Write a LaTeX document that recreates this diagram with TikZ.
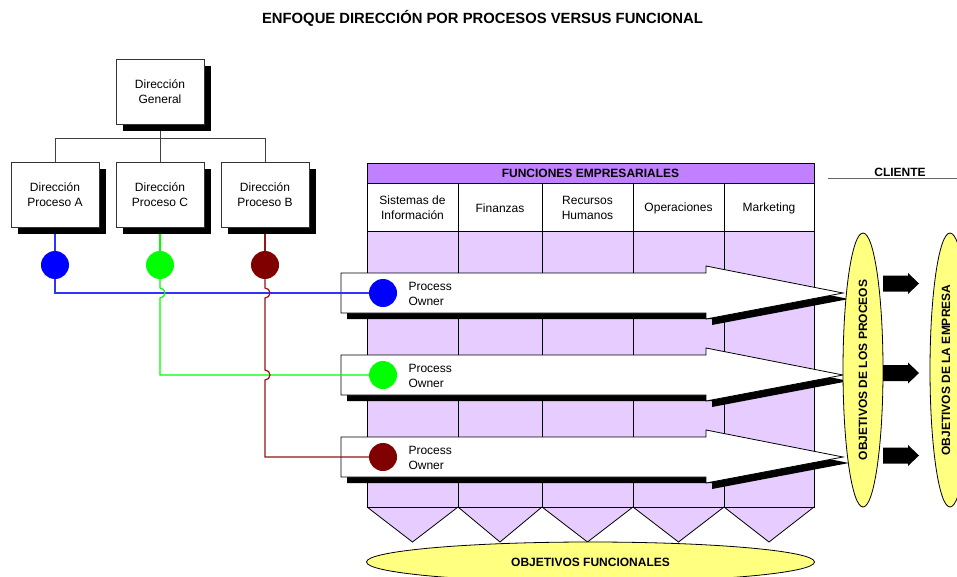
\documentclass[tikz,border=0pt]{standalone}
\usepackage{fontspec}
\setmainfont{Liberation Sans}
\usetikzlibrary{shadows,shapes.geometric}

\definecolor{headpurple}{RGB}{192,128,255}
\definecolor{lavender}{RGB}{230,204,255}
\definecolor{paleyellow}{RGB}{255,255,128}
\definecolor{ownerred}{RGB}{128,0,0}
\definecolor{ownergreen}{RGB}{0,255,0}
\definecolor{ownerblue}{RGB}{0,0,255}
\definecolor{linkblue}{RGB}{50,50,255}
\definecolor{linkred}{RGB}{150,20,20}

\begin{document}
\begin{tikzpicture}[x=1pt,y=-1pt,
  txt/.style={font=\fontsize{12}{15}\selectfont},
  boldtxt/.style={font=\bfseries\fontsize{12}{15}\selectfont},
  orgbox/.style={txt, draw=black!80, fill=white, line width=0.8pt,
    minimum width=88pt, minimum height=65pt, align=center, inner sep=0pt,
    drop shadow={shadow xshift=7pt, shadow yshift=-7pt, opacity=1, fill=black}},
  dot/.style={circle, minimum size=28pt, inner sep=0pt},
  link/.style={line width=1.2pt},
  orgline/.style={line width=0.9pt, draw=black!75},
  cellline/.style={draw=black, line width=0.8pt},
  yellowoval/.style={draw=black, line width=0.8pt, fill=paleyellow},
]
\useasboundingbox (0,0) rectangle (957,577);

% title
\node[font=\bfseries\fontsize{14.8}{17}\selectfont] (title) at (482.5,18.5)
  {ENFOQUE DIRECCIÓN POR PROCESOS VERSUS FUNCIONAL};

% ---------- functional table ----------
\fill[headpurple] (367,163) rectangle (814,183);
\fill[white] (367,183) rectangle (814,231);
\fill[lavender] (367,231) rectangle (814,507);
\foreach \a/\b in {367/458, 458/542, 542/633, 633/724, 724/814}
  \filldraw[fill=lavender, cellline] (\a,507) -- ({(\a+\b)/2},542) -- (\b,507);
\draw[cellline] (367,163) rectangle (814,507);
\draw[cellline] (367,183) -- (814,183);
\draw[cellline] (367,231) -- (814,231);
\foreach \x in {458,542,633,724}
  \draw[cellline] (\x,183) -- (\x,507);

\node[boldtxt] (fe) at (590.5,173.5) {FUNCIONES EMPRESARIALES};
\node[txt, align=center] (si) at (412.5,208) {Sistemas de\\Información};
\node[txt, align=center] (fi) at (500,208) {Finanzas};
\node[txt, align=center] (rh) at (587.5,208) {Recursos\\Humanos};
\node[txt, align=center] (op) at (678.5,208) {Operaciones};
\node[txt, align=center] (mk) at (769,208) {Marketing};

% ---------- process arrows ----------
\foreach \y in {293,375,457} {
  \fill[black, shift={(6,6)}]
    (341,\y-20) -- (706,\y-20) -- (706,\y-27) -- (843,\y)
    -- (706,\y+26) -- (706,\y+20) -- (341,\y+20) -- cycle;
  \draw[fill=white, line width=0.8pt]
    (341,\y-20) -- (706,\y-20) -- (706,\y-27) -- (843,\y)
    -- (706,\y+26) -- (706,\y+20) -- (341,\y+20) -- cycle;
}
\node[txt, anchor=west, align=left] (own1) at (405,294) {Process\\Owner};
\node[txt, anchor=west, align=left] (own2) at (405,376) {Process\\Owner};
\node[txt, anchor=west, align=left] (own3) at (405,458) {Process\\Owner};

% ---------- goals ----------
\node[yellowoval, ellipse, minimum width=40pt, minimum height=274pt] (obp) at (863,370) {};
\node[boldtxt, rotate=90] at (obp) {OBJETIVOS DE LOS PROCEOS};
\node[yellowoval, ellipse, minimum width=40pt, minimum height=274pt] (obe) at (950,370) {};
\node[boldtxt, rotate=90] at (946,370) {OBJETIVOS DE LA EMPRESA};
\node[yellowoval, ellipse, minimum width=448pt, minimum height=40pt] (obf) at (590.5,562) {};
\node[boldtxt] at (obf) {OBJETIVOS FUNCIONALES};

\foreach \y in {283.5,373,455.5}
  \fill[black] (883,\y-8) -- (908,\y-8) -- (908,\y-10.5) -- (919,\y)
    -- (908,\y+10.5) -- (908,\y+8) -- (883,\y+8) -- cycle;

\node[boldtxt] (cli) at (900,172) {CLIENTE};
\draw[black!60, line width=1pt] (828,179) -- (957,179);

% ---------- organisation chart ----------
\node[orgbox] (gen) at (160,91.5) {Dirección\\General};
\node[orgbox] (pa) at (55,194.5) {Dirección\\Proceso A};
\node[orgbox] (pc) at (160,194.5) {Dirección\\Proceso C};
\node[orgbox] (pb) at (265,194.5) {Dirección\\Proceso B};
\draw[orgline] (gen.south) ++(0,7) -- (pc.north);
\draw[orgline] (pa.north) -- ++(0,-23) -| (pb.north);

\node[dot, fill=ownerblue] (da) at (55,265) {};
\node[dot, fill=ownergreen] (dc) at (160,265) {};
\node[dot, fill=ownerred] (db) at (265,265) {};
\node[dot, fill=ownerblue] (po1) at (383,293) {};
\node[dot, fill=ownergreen] (po2) at (383,375) {};
\node[dot, fill=ownerred] (po3) at (383,457) {};

\draw[link, draw=linkblue] (pa.south) ++(0,7) -- (da);
\draw[link, draw=ownergreen] (pc.south) ++(0,7) -- (dc);
\draw[link, draw=linkred] (pb.south) ++(0,7) -- (db);

\draw[link, draw=linkblue] (da) |- (po1);
\draw[link, draw=ownergreen] (dc) -- (160,288)
  arc[start angle=-90, end angle=90, radius=5] |- (po2);
\draw[link, draw=linkred] (db) -- (265,288)
  arc[start angle=-90, end angle=90, radius=5] -- (265,370)
  arc[start angle=-90, end angle=90, radius=5] |- (po3);
\end{tikzpicture}
\end{document}
